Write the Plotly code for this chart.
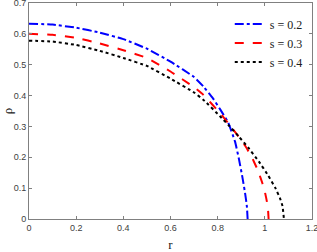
import plotly.graph_objects as go

r_s02 = [0, 0.1, 0.2, 0.3, 0.4, 0.5, 0.6, 0.7, 0.74, 0.78, 0.81, 0.845, 0.874, 0.89, 0.905, 0.917, 0.924, 0.927]
rho_s02 = [0.633, 0.630, 0.620, 0.604, 0.583, 0.552, 0.510, 0.460, 0.429, 0.391, 0.356, 0.312, 0.250, 0.195, 0.135, 0.080, 0.040, 0.0]

r_s03 = [0, 0.1, 0.2, 0.3, 0.4, 0.5, 0.6, 0.7, 0.74, 0.81, 0.845, 0.88, 0.916, 0.945, 0.972, 0.99, 1.001, 1.009, 1.014, 1.016]
rho_s03 = [0.600, 0.597, 0.587, 0.569, 0.547, 0.522, 0.478, 0.427, 0.402, 0.343, 0.310, 0.276, 0.238, 0.200, 0.155, 0.115, 0.085, 0.055, 0.025, 0.0]

r_s04 = [0, 0.1, 0.2, 0.3, 0.4, 0.5, 0.6, 0.7, 0.74, 0.81, 0.845, 0.89, 0.93, 0.975, 1.015, 1.045, 1.064, 1.075, 1.081]
rho_s04 = [0.578, 0.575, 0.564, 0.545, 0.522, 0.496, 0.455, 0.410, 0.386, 0.333, 0.305, 0.267, 0.231, 0.186, 0.140, 0.100, 0.068, 0.042, 0.0]

names = ["s = 0.2", "s = 0.3", "s = 0.4"]
colors = ["#0000ff", "#ff0000", "#000000"]
dashes = ["dashdot", "dash", "dot"]

fig = go.Figure()
for x, y, n, c, d in zip([r_s02, r_s03, r_s04], [rho_s02, rho_s03, rho_s04], names, colors, dashes):
    fig.add_trace(go.Scatter(x=x, y=y, mode="lines", name=n,
                             line=dict(color=c, dash=d, width=2, shape="spline", smoothing=0.3)))

axis_common = dict(showline=True, linecolor="#808080", linewidth=1, mirror="ticks",
                   ticks="inside", ticklen=3, tickcolor="#808080", showgrid=False, zeroline=False,
                   automargin=False, ticklabeloverflow="allow",
                   tickfont=dict(family="Liberation Sans, Arial", size=9, color="#404040"))

fig.update_layout(
    width=317, height=252,
    margin=dict(l=29, r=5, t=3, b=33, autoexpand=False),
    plot_bgcolor="white", paper_bgcolor="white",
    xaxis=dict(range=[0, 1.2], tickvals=[0, 0.2, 0.4, 0.6, 0.8, 1, 1.2],
               ticktext=["0", "0.2", "0.4", "0.6", "0.8", "1", "1.2"],
               title=dict(text="r", font=dict(family="Liberation Serif, Times New Roman", size=13, color="#202020")),
               **axis_common),
    yaxis=dict(range=[0, 0.7], tickvals=[0, 0.1, 0.2, 0.3, 0.4, 0.5, 0.6, 0.7],
               ticktext=["0", "0.1", "0.2", "0.3", "0.4", "0.5", "0.6", "0.7"],
               title=dict(text="ρ", font=dict(family="Liberation Serif, Times New Roman", size=13, color="#202020")),
               **axis_common),
    legend=dict(x=0.985, y=0.97, xanchor="right", yanchor="top", bgcolor="rgba(255,255,255,0)",
                font=dict(family="Liberation Serif, Times New Roman", size=12, color="#202020"),
                itemwidth=30, tracegroupgap=0),
    showlegend=True,
)

fig.write_html("out.html", config={"displayModeBar": False},
               post_script="document.body.style.margin='0';document.body.style.padding='0';")
